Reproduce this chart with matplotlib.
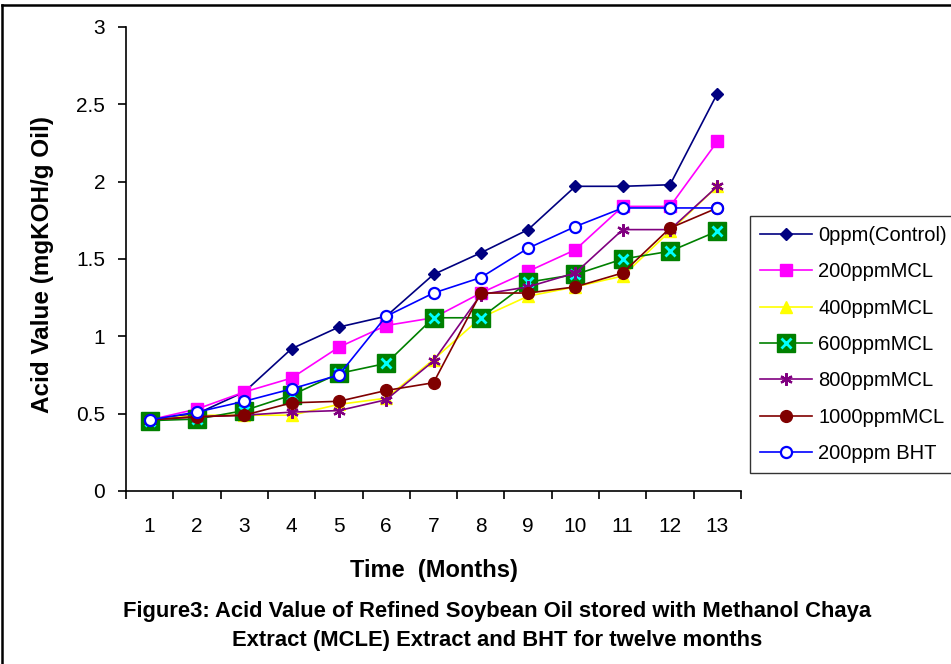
import matplotlib
matplotlib.use("Agg")
import matplotlib.pyplot as plt
from matplotlib.lines import Line2D
from matplotlib.legend_handler import HandlerTuple

plt.rcParams['font.family'] = ['Liberation Sans', 'DejaVu Sans']

months = list(range(1, 14))
month_labels = [str(m) for m in months]
yticks = [0, 0.5, 1, 1.5, 2, 2.5, 3]
ytick_labels = ["0", "0.5", "1", "1.5", "2", "2.5", "3"]

series_names = ["0ppm(Control)", "200ppmMCL", "400ppmMCL", "600ppmMCL",
                "800ppmMCL", "1000ppmMCL", "200ppm BHT"]
control = [0.46, 0.50, 0.64, 0.92, 1.06, 1.13, 1.40, 1.54, 1.69, 1.97, 1.97, 1.98, 2.57]
mcl200 = [0.46, 0.53, 0.64, 0.73, 0.93, 1.07, 1.12, 1.28, 1.42, 1.56, 1.84, 1.84, 2.26]
mcl400 = [0.46, 0.49, 0.49, 0.49, 0.56, 0.60, 0.85, 1.12, 1.26, 1.32, 1.39, 1.68, 1.97]
mcl600 = [0.455, 0.465, 0.52, 0.62, 0.76, 0.825, 1.12, 1.12, 1.35, 1.40, 1.50, 1.55, 1.68]
mcl800 = [0.46, 0.48, 0.49, 0.51, 0.52, 0.59, 0.84, 1.27, 1.32, 1.41, 1.69, 1.69, 1.97]
mcl1000 = [0.46, 0.48, 0.49, 0.57, 0.58, 0.65, 0.70, 1.28, 1.28, 1.32, 1.41, 1.70, 1.83]
bht = [0.46, 0.51, 0.58, 0.66, 0.75, 1.13, 1.28, 1.38, 1.57, 1.71, 1.83, 1.83, 1.83]

W, H = 951, 664
fig = plt.figure(figsize=(W / 100, H / 100), dpi=100)
ax = fig.add_axes([126 / W, 1 - 491 / H, (741 - 126) / W, (491 - 27) / H])

lw = 1.2
h0, = ax.plot(months, control, color='#000080', lw=lw, marker='D', ms=6.3,
              mfc='#000080', mec='#000080')
h1, = ax.plot(months, mcl200, color='#FF00FF', lw=lw, marker='s', ms=8,
              mfc='#FF00FF', mec='#FF00FF')
h2, = ax.plot(months, mcl400, color='#FFFF00', lw=lw, marker='^', ms=9,
              mfc='#FFFF00', mec='#FFFF00')
h3a, = ax.plot(months, mcl600, color='#008000', lw=lw, marker='s', ms=13,
               mfc='#008000', mec='#008000')
h3b, = ax.plot(months, mcl600, ls='none', marker='x', ms=7, mew=2,
               color='#00FFFF')
h4, = ax.plot(months, mcl800, color='#800080', lw=lw, marker=(6, 2, 0), ms=9,
              mew=1.6, mec='#800080')
h5, = ax.plot(months, mcl1000, color='#800000', lw=lw, marker='o', ms=8.5,
              mfc='#800000', mec='#800000')
h6, = ax.plot(months, bht, color='#0000FF', lw=lw, marker='o', ms=8,
              mfc='white', mec='#0000FF', mew=1.6)

ax.set_xlim(0.5, 13.5)
ax.set_ylim(0, 3)
ax.spines['top'].set_visible(False)
ax.spines['right'].set_visible(False)
for s in ('left', 'bottom'):
    ax.spines[s].set_linewidth(1.2)

ax.set_xticks([i + 0.5 for i in range(0, 14)])
ax.set_xticklabels([])
ax.set_xticks(months, minor=True)
ax.set_xticklabels(month_labels, minor=True, fontsize=15)
ax.tick_params(axis='x', which='major', direction='out', length=6, width=1.2)
ax.tick_params(axis='x', which='minor', length=0, pad=19)
ax.set_yticks(yticks)
ax.set_yticklabels(ytick_labels, fontsize=15)
ax.tick_params(axis='y', direction='out', length=6, width=1.2, pad=9)

fig.text(43 / W, 1 - 264 / H, "Acid Value (mgKOH/g Oil)", rotation=90,
         ha='center', va='center', fontsize=17.5, fontweight='bold')
fig.text(434 / W, 1 - 577 / H, "Time  (Months)", ha='center', va='baseline',
         fontsize=17, fontweight='bold')
fig.text(497 / W, 1 - 616.5 / H,
         "Figure3: Acid Value of Refined Soybean Oil stored with Methanol Chaya",
         ha='center', va='baseline', fontsize=15.8, fontweight='bold')
fig.text(497 / W, 1 - 646 / H,
         "Extract (MCLE) Extract and BHT for twelve months",
         ha='center', va='baseline', fontsize=15.8, fontweight='bold')

leg = fig.legend([h0, h1, h2, (h3a, h3b), h4, h5, h6], series_names,
                 handler_map={tuple: HandlerTuple(ndivide=1)},
                 loc='upper left', bbox_to_anchor=(750 / W, 1 - 216 / H),
                 bbox_transform=fig.transFigure, borderaxespad=0,
                 fontsize=14.5, numpoints=1, handlelength=2.6,
                 handletextpad=0.3, labelspacing=0.86, borderpad=0.5,
                 frameon=True, fancybox=False, edgecolor='black')
leg.get_frame().set_linewidth(1.0)

# outer frame (top and left visible)
fig.add_artist(Line2D([2 / W, 1], [1 - 5 / H, 1 - 5 / H], color='black',
                      lw=1.8, transform=fig.transFigure))
fig.add_artist(Line2D([2 / W, 2 / W], [0, 1 - 5 / H], color='black',
                      lw=1.8, transform=fig.transFigure))

fig.savefig("out.png", dpi=100)
